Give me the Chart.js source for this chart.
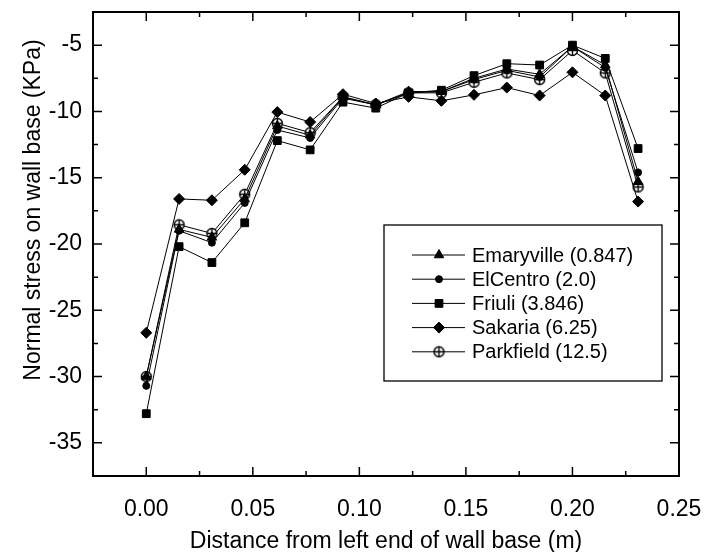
<!doctype html>
<html lang="en">
<head>
<meta charset="UTF-8">
<title>Normal stress on wall base</title>
<script src="https://cdn.jsdelivr.net/npm/chart.js@4.4.1/dist/chart.umd.min.js"></script>
<style>
    html, body { margin: 0; padding: 0; background: #fff; }
    .wrap { width: 704px; height: 552px; }
</style>
</head>
<body>
<div class="wrap"><canvas id="chart" width="704" height="552"></canvas></div>
<script>
// distance along wall base (m)
var distance = [0, 0.0154, 0.0308, 0.0462, 0.0615, 0.0769, 0.0923, 0.1077,
                0.1231, 0.1385, 0.1538, 0.1692, 0.1846, 0.2000, 0.2154, 0.2308];

// normal stress (KPa) per record
var emaryville = [-30.0, -18.9, -19.5, -16.6, -11.1, -11.8, -8.9, -9.5,
                  -8.5, -8.5, -7.5, -6.8, -7.2, -5.1, -6.5, -15.3];
var elCentro   = [-30.7, -19.0, -19.9, -16.9, -11.4, -12.0, -9.0, -9.5,
                  -8.6, -8.5, -7.6, -6.9, -7.4, -5.1, -6.7, -14.6];
var friuli     = [-32.8, -20.2, -21.4, -18.4, -12.2, -12.9, -9.3, -9.75,
                  -8.6, -8.4, -7.3, -6.4, -6.5, -5.0, -6.0, -12.8];
var sakaria    = [-26.7, -16.6, -16.7, -14.4, -10.05, -10.8, -8.7, -9.4,
                  -8.9, -9.2, -8.75, -8.2, -8.8, -7.05, -8.8, -16.8];
var parkfield  = [-30.0, -18.55, -19.2, -16.25, -10.9, -11.6, -8.9, -9.5,
                  -8.6, -8.6, -7.8, -7.1, -7.6, -5.4, -7.1, -15.7];

var seriesNames = ['Emaryville (0.847)', 'ElCentro (2.0)', 'Friuli (3.846)', 'Sakaria (6.25)', 'Parkfield (12.5)'];

var xTitle = 'Distance from left end of wall base (m)';
var yTitle = 'Normal stress on wall base (KPa)';

var FONT = '"Liberation Sans", Arial, sans-serif';

function toPoints(ys) {
    return ys.map(function (v, i) { return { x: distance[i], y: v }; });
}

// open circle with a + inside, for Parkfield
function circledCross(r) {
    var c = document.createElement('canvas');
    var s = 2 * r + 3;
    c.width = s; c.height = s;
    var g = c.getContext('2d');
    var m = s / 2;
    g.fillStyle = '#fff';
    g.strokeStyle = '#000';
    g.lineWidth = 1.4;
    g.beginPath(); g.arc(m, m, r, 0, Math.PI * 2); g.fill(); g.stroke();
    g.beginPath();
    g.moveTo(m - r, m); g.lineTo(m + r, m);
    g.moveTo(m, m - r); g.lineTo(m, m + r);
    g.stroke();
    return c;
}

function makeSet(label, ys, style, radius) {
    return {
        label: label,
        data: toPoints(ys),
        borderColor: '#000',
        backgroundColor: '#000',
        borderWidth: 1,
        pointStyle: style,
        pointRadius: radius,
        pointBorderWidth: 1,
        pointBackgroundColor: '#000',
        pointBorderColor: '#000',
        tension: 0,
        fill: false
    };
}

// frame round the plot and inward ticks on all four sides
var frameAndTicks = {
    id: 'frameAndTicks',
    beforeDatasetsDraw: function (chart) {
        var ctx = chart.ctx, a = chart.chartArea;
        var xs = chart.scales.x, ys = chart.scales.y;
        ctx.save();
        ctx.strokeStyle = '#000';
        ctx.lineWidth = 1.5;
        ctx.beginPath();
        xs.ticks.forEach(function (t) {
            var px = xs.getPixelForValue(t.value);
            var len = t.label ? 9 : 5;
            ctx.moveTo(px, a.bottom); ctx.lineTo(px, a.bottom - len);
            ctx.moveTo(px, a.top); ctx.lineTo(px, a.top + len);
        });
        ys.ticks.forEach(function (t) {
            var py = ys.getPixelForValue(t.value);
            var len = t.label ? 9 : 5;
            ctx.moveTo(a.left, py); ctx.lineTo(a.left + len, py);
            ctx.moveTo(a.right, py); ctx.lineTo(a.right - len, py);
        });
        ctx.stroke();
        ctx.lineWidth = 2;
        ctx.strokeRect(a.left, a.top, a.right - a.left, a.bottom - a.top);

        // y axis title, sits a bit above the middle like the original
        ctx.fillStyle = '#000';
        ctx.font = '23px ' + FONT;
        ctx.textAlign = 'center';
        ctx.textBaseline = 'middle';
        ctx.translate(34, 210);
        ctx.rotate(-Math.PI / 2);
        ctx.fillText(yTitle, 0, 0);
        ctx.restore();
    }
};

// boxed legend inside the plot
var boxLegend = {
    id: 'boxLegend',
    afterDraw: function (chart, args, opts) {
        var ctx = chart.ctx, a = chart.chartArea;
        var left = a.left + opts.left, top = a.top + opts.top;
        ctx.save();
        ctx.fillStyle = '#fff';
        ctx.fillRect(left, top, opts.width, opts.height);
        ctx.strokeStyle = '#000';
        ctx.lineWidth = 1.3;
        ctx.strokeRect(left, top, opts.width, opts.height);
        ctx.font = '20px ' + FONT;
        ctx.textBaseline = 'middle';
        ctx.textAlign = 'left';
        chart.data.datasets.forEach(function (ds, i) {
            var y = top + opts.firstRow + i * opts.rowGap;
            ctx.strokeStyle = '#000';
            ctx.lineWidth = 1;
            ctx.beginPath();
            ctx.moveTo(left + 28, y); ctx.lineTo(left + 81, y);
            ctx.stroke();
            ctx.fillStyle = '#000';
            Chart.helpers.drawPoint(ctx, {
                pointStyle: ds.pointStyle,
                radius: ds.pointRadius,
                borderWidth: 1,
                rotation: 0
            }, left + 55, y);
            ctx.fillStyle = '#000';
            ctx.fillText(ds.label, left + 88, y + 1);
        });
        ctx.restore();
    }
};

var ctx = document.getElementById('chart').getContext('2d');
var chart = new Chart(ctx, {
    type: 'line',
    data: {
        datasets: [
            makeSet(seriesNames[0], emaryville, 'triangle', 5.5),
            makeSet(seriesNames[1], elCentro, 'circle', 3.5),
            makeSet(seriesNames[2], friuli, 'rect', 5.5),
            makeSet(seriesNames[3], sakaria, 'rectRot', 5.5),
            makeSet(seriesNames[4], parkfield, circledCross(5), 5)
        ]
    },
    options: {
        responsive: false,
        animation: false,
        devicePixelRatio: 1,
        layout: { padding: { left: 0, top: 12, right: 25, bottom: 0 } },
        plugins: {
            legend: { display: false },
            tooltip: { enabled: false },
            boxLegend: { left: 291, top: 213, width: 278, height: 156, firstRow: 30, rowGap: 24.2 }
        },
        scales: {
            x: {
                type: 'linear',
                min: -0.025,
                max: 0.25,
                afterFit: function (s) {
                    s.height = 76;
                    s.paddingLeft = 0;
                    s.paddingRight = 0;
                },
                grid: { display: false, drawTicks: false },
                border: { display: false },
                ticks: {
                    stepSize: 0.025,
                    autoSkip: false,
                    maxRotation: 0,
                    padding: 20,
                    color: '#000',
                    font: { family: FONT, size: 23 },
                    callback: function (v) {
                        var k = Math.round(v / 0.025);
                        return (k % 2 === 0) ? (k * 0.025).toFixed(2) : '';
                    }
                },
                title: {
                    display: true,
                    text: xTitle,
                    color: '#000',
                    font: { family: FONT, size: 23 },
                    padding: { top: 0, bottom: -3 }
                }
            },
            y: {
                min: -37.5,
                max: -2.5,
                afterFit: function (s) {
                    s.width = 93;
                    s.paddingTop = 0;
                    s.paddingBottom = 0;
                },
                grid: { display: false, drawTicks: false },
                border: { display: false },
                ticks: {
                    stepSize: 2.5,
                    autoSkip: false,
                    padding: 11,
                    color: '#000',
                    font: { family: FONT, size: 23 },
                    callback: function (v) {
                        var k = Math.round(v / 2.5);
                        return (k % 2 === 0) ? String(k * 2.5) : '';
                    }
                }
            }
        }
    },
    plugins: [frameAndTicks, boxLegend]
});
</script>
</body>
</html>
